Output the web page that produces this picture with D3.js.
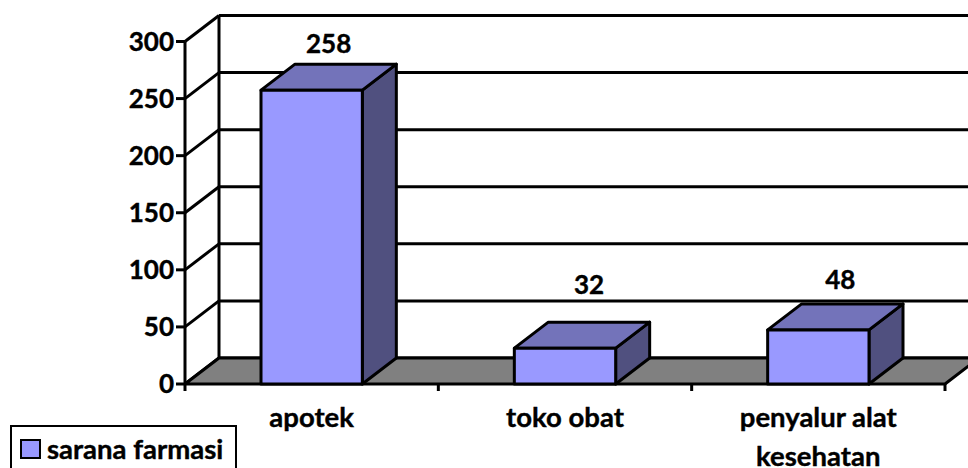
<!DOCTYPE html>
<html><head><meta charset="utf-8">
<script src="https://cdn.jsdelivr.net/npm/d3@7/dist/d3.min.js"></script>
<style>html,body{margin:0;padding:0;background:#fff;overflow:hidden}svg{display:block}text{font-family:Lato,sans-serif;font-weight:700;fill:#000;stroke:#000;stroke-width:.4px}</style>
</head><body><svg id="c" width="968" height="468"></svg>
<script>
const categories = ["apotek", "toko obat", "penyalur alat kesehatan"];
const values = [258, 32, 48];
const yTicks = [0, 50, 100, 150, 200, 250, 300];
const seriesName = "sarana farmasi";
const wrapped = [["apotek"], ["toko obat"], ["penyalur alat", "kesehatan"]];

const svg = d3.select("#c");
const dx = 34, dy = 26;
const x = d3.scaleBand().domain(categories).range([185, 945]).paddingInner(0.6).paddingOuter(0.3);
const y = d3.scaleLinear().domain([0, 300]).range([384, 41.5]);
const step = x.step();
const lw = 3;
const line = (x1, y1, x2, y2, w = lw) => svg.append("line").attr("x1", x1).attr("y1", y1).attr("x2", x2).attr("y2", y2).attr("stroke", "#000").attr("stroke-width", w);
const poly = (pts, fill) => svg.append("polygon").attr("points", pts.map(p => p.join(",")).join(" ")).attr("fill", fill).attr("stroke", "#000").attr("stroke-width", lw).attr("stroke-linejoin", "round");

const x0 = 185, x1 = 945;
yTicks.forEach(t => {
  line(x0 + dx, y(t) - dy, x1 + dx + 10, y(t) - dy);
  line(x0, y(t), x0 + dx, y(t) - dy);
  line(x0 - 9, y(t), x0, y(t));
});
line(x0, y(0), x0, y(300));
line(x0 + dx, y(0) - dy, x0 + dx, y(300) - dy);
[0, 1, 2, 3].forEach(i => line(x0 + i * step, y(0), x0 + i * step, y(0) + 7));
poly([[x0, y(0)], [x0 + dx, y(0) - dy], [x1 + dx, y(0) - dy], [x1, y(0)]], "#808080");

// label offset from the top-front edge of each bar, as in the source
const labelDx = [17, 24, 22], labelDy = [-37, -54, -41];
categories.forEach((c, i) => {
  const l = x(c), r = l + x.bandwidth(), t = y(values[i]) + 0.7, b = y(0);
  poly([[r, t], [r + dx, t - dy], [r + dx, b - dy], [r, b]], "#50507f");
  poly([[l, t], [l + dx, t - dy], [r + dx, t - dy], [r, t]], "#7373ba");
  poly([[l, t], [r, t], [r, b], [l, b]], "#9999ff");
  svg.append("text").attr("x", (l + r) / 2 + labelDx[i]).attr("y", t + labelDy[i]).attr("text-anchor", "middle").attr("font-size", 26).text(values[i]);
});

yTicks.forEach(t => svg.append("text").attr("x", 174).attr("y", y(t) + 9).attr("text-anchor", "end").attr("font-size", 26).text(t));

categories.forEach((c, i) => {
  wrapped[i].forEach((s, j) => svg.append("text").attr("x", x(c) + x.bandwidth() / 2).attr("y", 427 + j * 38.5).attr("text-anchor", "middle").attr("font-size", 27.5).text(s));
});

svg.append("rect").attr("x", 11).attr("y", 426).attr("width", 225).attr("height", 50).attr("fill", "#fff").attr("stroke", "#000").attr("stroke-width", 2);
svg.append("rect").attr("x", 21).attr("y", 440).attr("width", 19).attr("height", 18).attr("fill", "#9999ff").attr("stroke", "#000").attr("stroke-width", 2);
svg.append("text").attr("x", 47).attr("y", 459).attr("font-size", 27.5).text(seriesName);
</script></body></html>
